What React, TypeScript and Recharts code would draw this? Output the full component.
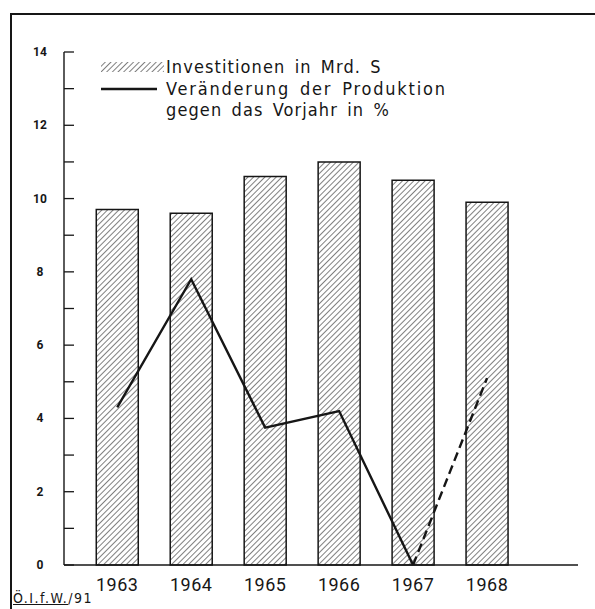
import { Bar, ComposedChart, Line, XAxis, YAxis } from 'recharts';

// Jahre und Werte
const years = [1963, 1964, 1965, 1966, 1967, 1968];
const investitionen = [9.7, 9.6, 10.6, 11.0, 10.5, 9.9];
// Produktionsveränderung: 1963–1967 durchgezogen, 1967–1968 gestrichelt
const produktion = [4.3, 7.8, 3.75, 4.2, 0, null];
const produktionVorl = [null, null, null, null, 0, 5.1];
const yTicks = [0, 1, 2, 3, 4, 5, 6, 7, 8, 9, 10, 11, 12, 13, 14];

const data = years.map((year, i) => ({
  year,
  invest: investitionen[i],
  prod: produktion[i],
  prodDash: produktionVorl[i],
}));

const FONT = 'DejaVu Sans Condensed, DejaVu Sans, sans-serif';
const NUM_FONT = 'Roboto, sans-serif';
const INK = '#161616';

function YTick({ x, y, payload }: any) {
  const v = payload.value as number;
  return (
    <g>
      <line x1={x} x2={x + 10} y1={y} y2={y} stroke={INK} strokeWidth={1.3} />
      {v % 2 === 0 && (
        <text x={x - 24} y={y + 4} textAnchor="middle" fontSize={12} fontWeight={700} fill={INK} fontFamily={NUM_FONT}>
          {v}
        </text>
      )}
    </g>
  );
}

function XTick({ x, y, payload }: any) {
  return (
    <text x={x} y={y + 14} textAnchor="middle" fontSize={18} fill={INK} fontFamily={NUM_FONT} letterSpacing={0.5}>
      {payload.value}
    </text>
  );
}

function HatchPattern({ id }: { id: string }) {
  return (
    <pattern id={id} width={4} height={4} patternUnits="userSpaceOnUse" patternTransform="rotate(45)">
      <line x1={0} y1={0} x2={0} y2={4} stroke={INK} strokeWidth={1.1} />
    </pattern>
  );
}

export default function App() {
  return (
    <div style={{ position: 'absolute', left: 0, top: 0, width: 595, height: 609, background: '#fff', fontFamily: FONT }}>
      <div style={{ position: 'absolute', left: 10, top: 13, right: 0, bottom: 0, borderTop: `2px solid ${INK}`, borderLeft: `2px solid ${INK}` }} />
      <ComposedChart width={595} height={609} data={data} margin={{ top: 52, right: 17, bottom: 14, left: 0 }}>
        <defs>
          <HatchPattern id="hatch" />
        </defs>
        <XAxis
          dataKey="year"
          type="number"
          domain={[1962.28, 1969.23]}
          ticks={years}
          allowDataOverflow
          height={30}
          tickLine={false}
          axisLine={{ stroke: INK, strokeWidth: 1.6 }}
          tick={<XTick />}
          tickMargin={6}
        />
        <YAxis
          width={64}
          domain={[0, 14]}
          ticks={yTicks}
          interval={0}
          tickLine={false}
          tickSize={0}
          tickMargin={0}
          axisLine={{ stroke: INK, strokeWidth: 1.4 }}
          tick={<YTick />}
        />
        <Bar dataKey="invest" barSize={42} fill="url(#hatch)" stroke={INK} strokeWidth={1.5} isAnimationActive={false} />
        <Line dataKey="prod" stroke={INK} strokeWidth={2.4} dot={false} connectNulls={false} isAnimationActive={false} />
        <Line dataKey="prodDash" stroke={INK} strokeWidth={2.4} strokeDasharray="9 5" dot={false} isAnimationActive={false} />
      </ComposedChart>

      <div style={{ position: 'absolute', left: 101, top: 56, fontSize: 18, color: INK, lineHeight: '21.5px', letterSpacing: 1.1, wordSpacing: 3 }}>
        <div style={{ display: 'flex', alignItems: 'center' }}>
          <svg width={63} height={14} style={{ marginRight: 2 }}>
            <defs>
              <HatchPattern id="hatchLeg" />
            </defs>
            <rect x={0} y={2} width={63} height={10} fill="url(#hatchLeg)" />
          </svg>
          <span>Investitionen in Mrd. S</span>
        </div>
        <div style={{ display: 'flex', alignItems: 'center' }}>
          <svg width={56} height={14} style={{ marginRight: 9 }}>
            <line x1={0} x2={56} y1={8} y2={8} stroke={INK} strokeWidth={2.4} />
          </svg>
          <span style={{ letterSpacing: 1.8 }}>Veränderung der Produktion</span>
        </div>
        <div style={{ paddingLeft: 65 }}>gegen das Vorjahr in %</div>
      </div>

      <div style={{ position: 'absolute', left: 13, top: 590, fontSize: 14, letterSpacing: 1.5, color: INK }}>
        <span style={{ textDecoration: 'underline' }}>Ö.I.f.W.</span>/91
      </div>
    </div>
  );
}
